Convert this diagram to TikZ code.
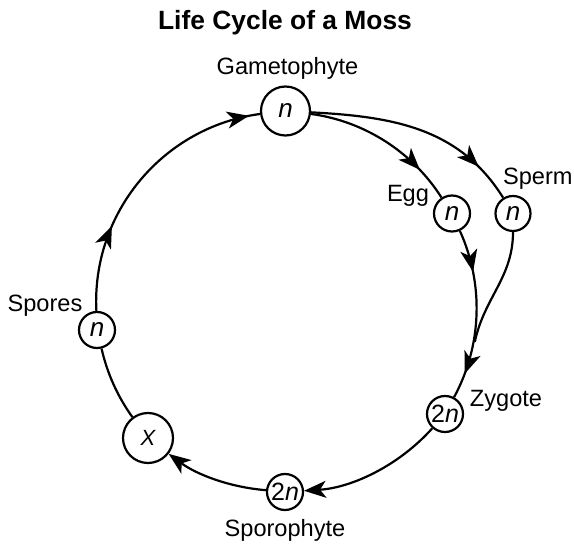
\documentclass[tikz,border=0pt]{standalone}
\usepackage{fontspec}
\setmainfont{Liberation Sans}
\usetikzlibrary{arrows.meta,decorations.markings}
\begin{document}
\begin{tikzpicture}[x=1pt,y=1pt,
  stage/.style={circle,draw,line width=2.2pt,fill=white,inner sep=0pt,font=\fontsize{26}{26}\selectfont},
  lbl/.style={font=\fontsize{23.6}{24}\selectfont,anchor=base,inner sep=0pt},
  link/.style={line width=2.2pt},
  midarrow/.style={postaction={decorate},decoration={markings,mark=at position #1 with {\arrow{Stealth[length=22pt,width=17pt,inset=6pt]}}}},
  twoarrows/.style 2 args={postaction={decorate},decoration={markings,
     mark=at position #1 with {\arrow{Stealth[length=22pt,width=17pt,inset=6pt]}},
     mark=at position #2 with {\arrow{Stealth[length=22pt,width=17pt,inset=6pt]}}}},
  endtip/.style={-{Stealth[length=22pt,width=17pt,inset=6pt]}}
]
\useasboundingbox (0,0) rectangle (574,544);

\node[lbl,font=\fontsize{26.4}{27}\selectfont\bfseries] (title) at (285,514) {Life Cycle of a Moss};

\node[stage,minimum size=49pt] (G) at (285.5,433) {\itshape n};
\node[stage,minimum size=36pt] (Egg) at (452,330.5) {\itshape n};
\node[stage,minimum size=35pt] (Sp) at (513,330.5) {\itshape n};
\node[stage,minimum size=36pt,font=\fontsize{25}{25}\selectfont] (Zyg) at (445,130) {2\itshape n};
\node[stage,minimum size=36pt,font=\fontsize{25}{25}\selectfont] (Spo) at (285,52) {2\itshape n};
\node[stage,minimum size=50pt,font=\fontsize{22}{22}\selectfont] (X) at (148,106) {\itshape X};
\node[stage,minimum size=36pt] (Spr) at (97,214) {\itshape n};
\coordinate (M) at (474.8,202.1);

\node[lbl] (lG) at (287.5,469) {Gametophyte};
\node[lbl] (lEgg) at (408,342) {Egg};
\node[lbl] (lSp) at (537.8,359) {Sperm};
\node[lbl] (lSpr) at (45,232) {Spores};
\node[lbl] (lZyg) at (506,137) {Zygote};
\node[lbl] (lSpo) at (285,7) {Sporophyte};

\draw[link,midarrow=0.78] (G) to[bend left=25,looseness=0.89] (Egg);
\draw[link,midarrow=0.82] (G) to[out=-3,in=122] (Sp);
\draw[link] (Sp) to[out=-90,in=78] (M);
\draw[link,twoarrows={0.25}{0.85}] (Egg) to[bend left=26.4,looseness=0.9] (Zyg);
\draw[link,endtip] (Zyg) to[bend left=22.3,looseness=0.88] (Spo);
\draw[link,endtip] (Spo) to[bend left=16,looseness=0.87] (X);
\draw[link] (X) to[bend left=11.5,looseness=0.86] (Spr);
\draw[link,twoarrows={0.31}{0.96}] (Spr) to[bend left=42.6,looseness=0.98] (G);
\end{tikzpicture}
\end{document}
